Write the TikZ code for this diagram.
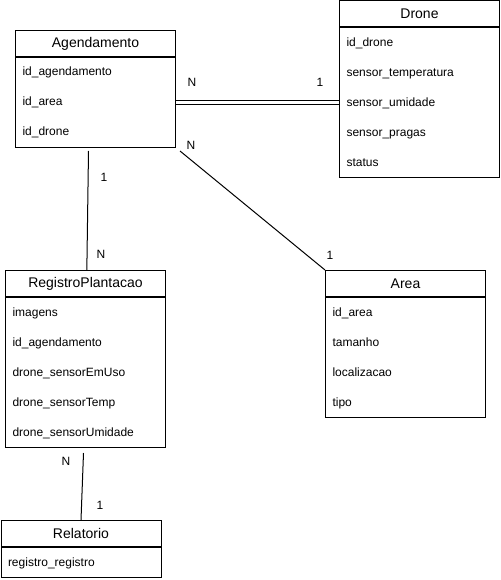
\documentclass[tikz,border=0pt]{standalone}
\usepackage{fontspec}
\setmainfont{Liberation Sans}
\begin{document}
\begin{tikzpicture}[x=0.75pt,y=-0.75pt,line width=0.75pt]
    %
    % `head' is the title cell of a table, `body' the cell with its fields.
    % `field' is one field name, `card' a cardinality near a link.
    \tikzstyle{head} = [draw,anchor=north west,minimum width=120pt,minimum height=19.5pt,inner sep=0pt,font=\fontsize{10.5}{12}\selectfont]
    \tikzstyle{body} = [draw,anchor=north west,minimum width=120pt,inner sep=0pt]
    \tikzstyle{field} = [anchor=base west,inner sep=0pt,font=\fontsize{9}{11}\selectfont]
    \tikzstyle{card} = [inner sep=0pt,font=\fontsize{9}{11}\selectfont]
    \useasboundingbox (0,0) rectangle (500,580);
    %
    % Agendamento
    \node[head] (agendhead) at (15,30) {Agendamento};
    \node[body,minimum height=67.5pt] (agendbody) at (agendhead.south west) {};
    \foreach \t [count=\i] in {id\_agendamento,id\_area,id\_drone}
        \node[field] (agend-\i) at ([shift={(7,30*\i-11)}]agendbody.north west) {\t};
    %
    % Drone
    \node[head] (dronehead) at (339,0.5) {Drone};
    \node[body,minimum height=112.5pt] (dronebody) at (dronehead.south west) {};
    \foreach \t [count=\i] in {id\_drone,sensor\_temperatura,sensor\_umidade,sensor\_pragas,status}
        \node[field] (drone-\i) at ([shift={(7,30*\i-11)}]dronebody.north west) {\t};
    %
    % Area
    \node[head] (areahead) at (325,270) {Area};
    \node[body,minimum height=90pt] (areabody) at (areahead.south west) {};
    \foreach \t [count=\i] in {id\_area,tamanho,localizacao,tipo}
        \node[field] (area-\i) at ([shift={(7,30*\i-11)}]areabody.north west) {\t};
    %
    % RegistroPlantacao
    \node[head] (reghead) at (5,270) {RegistroPlantacao};
    \node[body,minimum height=112.5pt] (regbody) at (reghead.south west) {};
    \foreach \t [count=\i] in {imagens,id\_agendamento,drone\_sensorEmUso,drone\_sensorTemp,drone\_sensorUmidade}
        \node[field] (reg-\i) at ([shift={(7,30*\i-11)}]regbody.north west) {\t};
    %
    % Relatorio
    \node[head] (relhead) at (0.5,520) {Relatorio};
    \node[body,minimum height=22.5pt] (relbody) at (relhead.south west) {};
    \node[field] (rel-1) at ([shift={(7,19)}]relbody.north west) {registro\_registro};
    %
    % Links
    \draw[double,double distance=2.25pt] (agendbody.east) -- (agendbody.east -| dronebody.west);
    \draw ([shift={(4,3)}]agendbody.south east) -- (areahead.north west);
    \draw ([shift={(-7,3)}]agendbody.south) -- ([xshift=1]reghead.north);
    \draw ([shift={(-2,5)}]regbody.south) -- (relhead.north);
    %
    % Cardinalities
    \node[card] (cAgDr) at (192,82) {N};
    \node[card] (cDrAg) at (320,82) {1};
    \node[card] (cAgAr) at (191,145) {N};
    \node[card] (cArAg) at (330,255) {1};
    \node[card] (cAgRe) at (104,177) {1};
    \node[card] (cReAg) at (101,254) {N};
    \node[card] (cReRl) at (66,461) {N};
    \node[card] (cRlRe) at (100,505) {1};
    %
\end{tikzpicture}
\end{document}
